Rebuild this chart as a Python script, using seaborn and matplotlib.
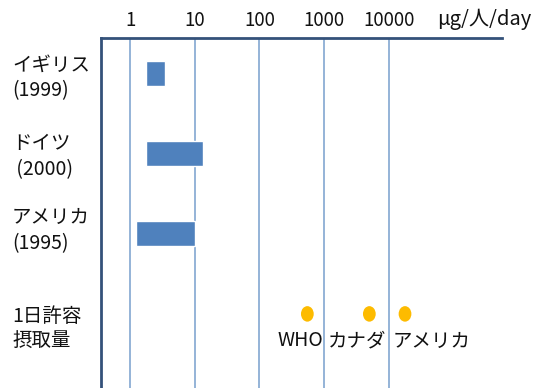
import numpy as np
import pandas as pd
import matplotlib
matplotlib.use("Agg")
import matplotlib.pyplot as plt
import matplotlib.transforms as mtransforms
from matplotlib.path import Path
import seaborn as sns

# データ
countries = ["イギリス\n(1999)", "ドイツ\n (2000)", "アメリカ\n(1995)"]
intake_low = [1.77, 1.77, 1.24]
intake_high = [3.5, 13.5, 10.0]
adi_row = "1日許容\n摂取量"
adi_names = ["WHO", "カナダ", "アメリカ"]
adi_values = [550, 5000, 17800]
x_ticks = [1, 10, 100, 1000, 10000]
x_ticklabels = ["1", "10", "100", "1000", "10000"]
unit = "μg/人/day"

sns.set_theme(style="white")
plt.rcParams['font.family'] = ['Noto Sans CJK JP', 'DejaVu Sans']

fig = plt.figure(figsize=(5.38, 3.88), dpi=100)
ax = fig.add_axes([101 / 538, 0, 401 / 538, 350 / 388])

rows = countries + [adi_row]
df = pd.DataFrame({"row": countries, "low": intake_low, "high": intake_high})
df["pos"] = np.arange(len(countries))

# 摂取量の範囲（横棒）
ax.barh(df["pos"], df["high"] - df["low"], left=df["low"], height=0.31,
        color="#4f81bd", zorder=3)

# 1日許容摂取量（点）
ellipse = Path.unit_circle()
ellipse = Path(ellipse.vertices * np.array([0.82, 1.0]), ellipse.codes)
adi = pd.DataFrame({"name": adi_names, "value": adi_values, "pos": len(countries)})
sns.scatterplot(data=adi, x="value", y="pos", ax=ax, marker=ellipse, s=125,
                color="#fdbb00", edgecolor="none", zorder=4, legend=False)
label_dx = [-5, -9, 19.5]
for name, v, dx in zip(adi_names, adi_values, label_dx):
    ax.annotate(name, (v, len(countries)), xytext=(dx, -19.5), textcoords="offset points",
                ha="center", va="center", fontsize=14, color="#111111")

ax.set_xscale("log")
ax.set_xlim(10 ** -0.45, 10 ** 5.75)
ax.set_ylim(3.925, -0.444)
ax.set_xticks(x_ticks)
ax.set_xticklabels(x_ticklabels)
ax.minorticks_off()
ax.xaxis.tick_top()
ax.tick_params(axis="x", length=0, pad=5, labelsize=13.5, labelcolor="#111111")
ax.set_yticks([])
ax.set_xlabel("")
ax.set_ylabel("")
ax.grid(axis="x", color="#95b3d7", lw=1.4, zorder=1)
ax.grid(axis="y", visible=False)

for s in ["right", "bottom"]:
    ax.spines[s].set_visible(False)
for s in ["top", "left"]:
    ax.spines[s].set_color("#34527a")
    ax.spines[s].set_linewidth(2)

# 左側のラベル
trans = mtransforms.blended_transform_factory(fig.transFigure, ax.transData)
label_dy = [0.06, 0.035, -0.04, 0.19]
for i, (r, dy) in enumerate(zip(rows, label_dy)):
    ax.text(12 / 538, i + dy, r, transform=trans,
            ha="left", va="center", fontsize=14, linespacing=1.28, color="#111111")

fig.text(484 / 538, 1 - 19 / 388, unit, ha="center", va="center", fontsize=14.5,
         color="#111111")

fig.savefig("out.png", dpi=100)
